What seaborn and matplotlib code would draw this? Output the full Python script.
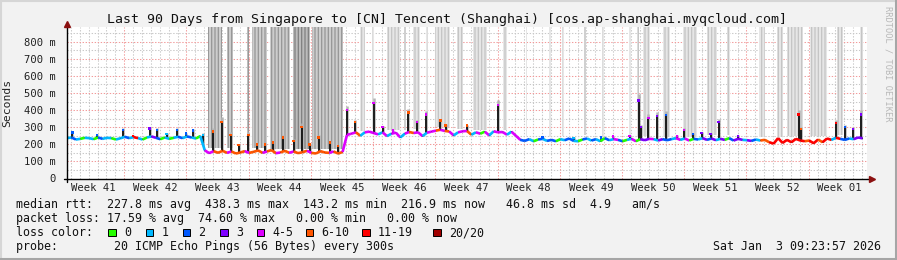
import numpy as np
import pandas as pd
import matplotlib
matplotlib.use("Agg")
import matplotlib.pyplot as plt
import seaborn as sns
from matplotlib.patches import Rectangle
from matplotlib.lines import Line2D
from matplotlib.collections import LineCollection

# ---------------- data ----------------
loss_labels = ['0', '1', '2', '3', '4-5', '6-10', '11-19', '20/20']
loss_colors = ['#26ff00', '#00b8ff', '#0059ff', '#7e00ff', '#dd00ff', '#ff5500', '#ff0000', '#a10000']

week_labels = ['Week 41', 'Week 42', 'Week 43', 'Week 44', 'Week 45', 'Week 46', 'Week 47',
               'Week 48', 'Week 49', 'Week 50', 'Week 51', 'Week 52', 'Week 01']
first_week_start = 6.44      # day offset of first Monday in the 90-day window

ytick_values = [0, 100, 200, 300, 400, 500, 600, 700, 800]
ytick_labels = ['0', '100 m', '200 m', '300 m', '400 m', '500 m', '600 m', '700 m', '800 m']

# baseline median rtt (ms), one sample every 12 hours
median_ms = [
    236, 240, 228, 232, 238, 236, 230, 240, 232, 238,
    236, 228, 235, 244, 236, 242, 236, 228, 240, 246,
    238, 230, 240, 232, 238, 244, 236, 246, 240, 234,
    248, 165, 148, 160, 150, 162, 150, 158, 146, 152,
    160, 150, 156, 164, 150, 158, 166, 148, 152, 162,
    150, 158, 148, 154, 162, 150, 146, 160, 152, 150,
    158, 146, 155, 255, 262, 270, 250, 270, 274, 266,
    258, 270, 248, 262, 268, 240, 262, 272, 266, 270,
    248, 268, 274, 280, 285, 278, 275, 252, 270, 276,
    278, 256, 270, 262, 274, 252, 276, 270, 272, 256,
    274, 250, 226, 220, 230, 218, 228, 232, 220, 226,
    218, 230, 224, 234, 220, 218, 228, 234, 222, 230,
    218, 236, 224, 230, 226, 218, 226, 232, 218, 230,
    224, 232, 230, 222, 230, 224, 230, 236, 226, 234,
    222, 232, 228, 236, 226, 234, 224, 232, 226, 236,
    222, 232, 226, 224, 220, 228, 222, 226, 212, 204,
    236, 208, 226, 212, 232, 222, 218, 222, 206, 228,
    212, 234, 226, 238, 232, 226, 234, 230, 240, 235,
]

# loss colour class index per sample (into loss_labels)
loss_idx = [
    1, 2, 1, 0, 1, 1, 0, 2, 1, 1,
    0, 1, 1, 2, 1, 6, 1, 0, 1, 3,
    2, 0, 1, 0, 1, 2, 1, 2, 1, 0,
    1, 4, 4, 5, 5, 5, 4, 5, 5, 5,
    4, 5, 5, 5, 4, 5, 5, 4, 5, 5,
    4, 5, 5, 5, 4, 5, 5, 5, 5, 4,
    5, 5, 4, 4, 4, 5, 1, 4, 4, 4,
    1, 4, 1, 4, 4, 1, 4, 5, 4, 4,
    1, 4, 4, 5, 4, 5, 4, 1, 4, 4,
    5, 1, 4, 0, 4, 1, 4, 4, 4, 1,
    4, 4, 2, 2, 1, 0, 2, 1, 2, 2,
    0, 1, 2, 2, 1, 0, 2, 1, 2, 1,
    0, 2, 1, 4, 2, 0, 1, 4, 0, 3,
    3, 4, 1, 3, 2, 2, 1, 4, 1, 4,
    0, 2, 1, 3, 2, 3, 1, 3, 0, 2,
    3, 3, 1, 3, 2, 1, 5, 5, 6, 6,
    6, 6, 6, 6, 6, 6, 5, 6, 6, 5,
    6, 6, 1, 6, 2, 2, 1, 3, 3, 0,
]

# short latency spikes: day, peak (ms), loss class at peak
spike_day = [0.6, 3.4, 6.3, 7.4, 9.3, 10.1, 11.2, 12.4, 13.4, 14.2, 15.3,
             16.4, 17.4, 18.4, 19.3, 20.4, 21.4, 22.3, 23.2, 24.3, 25.5, 26.4, 27.3, 28.3, 29.6, 30.5,
             31.5, 32.4, 34.5, 35.5, 36.7, 38.4, 39.4, 40.4, 42.0, 42.6, 45.0, 48.5,
             53.5, 57.0, 60.1, 61.4, 63.3, 64.3, 64.6, 65.4, 66.4, 67.4, 68.6, 69.4, 70.4, 71.4,
             72.4, 73.3, 75.5, 82.3, 82.6, 86.5, 87.5, 88.4, 89.3]
spike_peak = [268, 255, 285, 250, 292, 285, 260, 285, 262, 280, 255,
              275, 330, 255, 195, 255, 200, 200, 210, 240, 220, 300, 200, 240, 210, 190,
              400, 330, 440, 300, 280, 385, 330, 375, 340, 310, 310, 430,
              240, 238, 240, 245, 250, 455, 300, 355, 365, 370, 250, 285, 260, 265,
              260, 330, 250, 375, 290, 325, 300, 290, 375]
spike_loss = [2, 2, 2, 6, 3, 2, 1, 2, 2, 2, 1,
              5, 5, 5, 5, 5, 5, 5, 5, 5, 5, 5, 5, 5, 5, 5,
              4, 5, 4, 4, 4, 5, 4, 4, 5, 5, 5, 4,
              2, 1, 2, 4, 4, 3, 3, 4, 3, 2, 4, 4, 2, 3,
              3, 3, 3, 6, 5, 6, 2, 3, 3]

# smoke bands reaching the top of the graph: (start day, end day, shade)
smoke_bands = [
    (15.9, 17.4, 'd'), (18.0, 18.7, 'd'), (20.3, 20.5, 'd'), (20.8, 22.5, 'd'),
    (22.8, 25.1, 'd'), (25.4, 27.3, 'D'), (27.6, 31.0, 'd'), (33.0, 33.5, 'l'),
    (34.3, 34.5, 'l'), (36.0, 37.5, 'l'), (37.9, 38.1, 'l'), (38.9, 39.7, 'l'),
    (40.4, 40.6, 'l'), (41.4, 43.1, 'l'), (43.9, 44.5, 'l'), (45.7, 47.2, 'l'),
    (49.0, 49.5, 'l'), (51.6, 51.8, 'l'), (54.2, 54.4, 'l'), (55.7, 55.9, 'l'),
    (58.2, 58.4, 'l'), (60.2, 60.4, 'l'), (63.2, 63.4, 'l'), (64.1, 64.3, 'l'),
    (64.8, 65.6, 'l'), (67.0, 67.8, 'l'), (69.3, 70.9, 'l'), (72.0, 73.1, 'l'),
    (74.2, 74.6, 'l'), (77.9, 78.5, 'l'), (79.9, 80.5, 'l'), (81.0, 82.8, 'l'),
    (83.6, 85.5, 'l'), (86.6, 87.3, 'l'), (89.2, 89.5, 'l'),
]
shade_face = {'D': '#bcbcbc', 'd': '#cdcdcd', 'l': '#e6e6e6'}
shade_hatch = {'D': '#808080', 'd': '#969696', 'l': '#c4c4c4'}

title = 'Last 90 Days from Singapore to [CN] Tencent (Shanghai) [cos.ap-shanghai.myqcloud.com]'
stat_rtt = 'median rtt:  227.8 ms avg  438.3 ms max  143.2 ms min  216.9 ms now   46.8 ms sd  4.9   am/s'
stat_loss = 'packet loss: 17.59 % avg  74.60 % max   0.00 % min   0.00 % now'
probe_txt = 'probe:        20 ICMP Echo Pings (56 Bytes) every 300s'
date_txt = 'Sat Jan  3 09:23:57 2026'

# ---------------- figure ----------------
W, H = 897, 260
sns.set_style('white')
plt.rcParams['font.family'] = ['DejaVu Sans Mono']
plt.rcParams['hatch.linewidth'] = 0.9
fig = plt.figure(figsize=(W / 100, H / 100), dpi=100, facecolor='#f2f2f2')

def fx(px):
    return px / W

def fy(py):
    return 1 - py / H

ax_l, ax_r, ax_t, ax_b = 67, 867, 27, 178.5
ax = fig.add_axes([fx(ax_l), fy(ax_b), (ax_r - ax_l) / W, (ax_b - ax_t) / H])
ax.set_facecolor('white')
XMAX, YMAX = 90, 886
ax.set_xlim(0, XMAX)
ax.set_ylim(0, YMAX)
for s in ax.spines.values():
    s.set_visible(False)

t = np.arange(len(median_ms)) * 0.5
med = np.array(median_ms, dtype=float)

# grid
dots = (0, (1.3, 1.6))
minor_x = np.arange(first_week_start % 1, XMAX, 1.0)
bounds = first_week_start + 7 * np.arange(12)
for x in minor_x:
    if np.min(np.abs(bounds - x)) > 0.1:
        ax.axvline(x, color='#c8c8c8', lw=0.75, ls=dots, zorder=0.5)
for y in np.arange(50, YMAX, 100):
    ax.axhline(y, color='#c8c8c8', lw=0.75, ls=dots, zorder=0.5)
for x in bounds:
    ax.axvline(x, color='#f29a9a', lw=0.75, ls=dots, zorder=0.6)
for y in ytick_values[1:]:
    ax.axhline(y, color='#f29a9a', lw=0.75, ls=dots, zorder=0.6)

# smoke bands
for a, b, sh in smoke_bands:
    base = np.interp((a + b) / 2, t, med) + 20
    ax.fill_between([a, b], base, YMAX, facecolor=shade_face[sh], edgecolor=shade_hatch[sh],
                    hatch='|||||', lw=0, zorder=1)

# spikes: smoke, black line, coloured tip
sp_day = np.array(spike_day)
sp_peak = np.array(spike_peak, dtype=float)
sp_base = np.interp(sp_day, t, med)
ax.vlines(sp_day, sp_base, sp_peak + 0.18 * (sp_peak - sp_base), color='#b4b4b4', lw=1.8, zorder=2)
ax.vlines(sp_day, sp_base, sp_peak, color='black', lw=1.2, zorder=3)

# baseline median: thin black under coloured segments
sns.lineplot(x=t, y=med, color='black', linewidth=0.8, estimator=None, sort=False, ax=ax, zorder=3)
pts = np.column_stack([t, med])
segs = np.stack([pts[:-1], pts[1:]], axis=1)
lc = LineCollection(segs, colors=[loss_colors[k] for k in loss_idx[:-1]], linewidths=1.9, zorder=4)
ax.add_collection(lc)

spikes_df = pd.DataFrame({'day': sp_day, 'peak': sp_peak,
                          'loss': [loss_labels[k] for k in spike_loss]})
sns.scatterplot(data=spikes_df, x='day', y='peak', hue='loss', hue_order=loss_labels,
                palette=dict(zip(loss_labels, loss_colors)), marker='s', s=3, linewidth=0,
                legend=False, ax=ax, zorder=5)

# ticks
ax.set_yticks(ytick_values)
ax.set_yticklabels(ytick_labels)
ax.tick_params(axis='y', length=2, width=0.8, color='#444444', pad=6,
               labelsize=7.6, labelcolor='#222222')
ax.set_xticks(bounds)
ax.set_xticklabels([])
ax.tick_params(axis='x', which='major', length=3, width=0.8, color='#e07070')
centers = first_week_start - 3.5 + 7 * np.arange(len(week_labels))
ax.set_xticks(centers, minor=True)
ax.set_xticklabels(week_labels, minor=True)
ax.tick_params(axis='x', which='minor', length=0, pad=3, labelsize=7.6, labelcolor='#222222')
ax.set_xlabel('')
ax.set_ylabel('Seconds', fontsize=8.2, color='#222222')
ax.yaxis.set_label_coords(-0.069, 0.5)

# axis lines with arrows
ax.plot([0, 0], [-0.02, 1.0], transform=ax.transAxes, color='black', lw=1, clip_on=False, zorder=6)
ax.plot([-0.004, 1.004], [0, 0], transform=ax.transAxes, color='black', lw=1, clip_on=False, zorder=6)
ax.plot([0], [1.018], marker='^', ms=4.5, color='#8b1010', transform=ax.transAxes, clip_on=False, zorder=7)
ax.plot([1.0065], [0], marker='>', ms=4.5, color='#8b1010', transform=ax.transAxes, clip_on=False, zorder=7)

# texts
fig.text(fx(446.5), fy(19.5), title, ha='center', va='center', fontsize=9.5, color='#111111')
fig.text(fx(888), fy(6), 'RRDTOOL / TOBI OETIKER', rotation=270, ha='center', va='top',
         fontsize=6.2, color='#b8b8b8')
fs = 8.4
fig.text(fx(16), fy(204.5), stat_rtt, ha='left', va='center', fontsize=fs, color='#111111')
fig.text(fx(16), fy(218.5), stat_loss, ha='left', va='center', fontsize=fs, color='#111111')
fig.text(fx(16), fy(232.5), 'loss color:', ha='left', va='center', fontsize=fs, color='#111111')
fig.text(fx(16), fy(246.5), probe_txt, ha='left', va='center', fontsize=fs, color='#111111')
fig.text(fx(881), fy(246.5), date_txt, ha='right', va='center', fontsize=fs, color='#111111')

box_x = [108, 145.5, 182.5, 220, 256.5, 305.5, 362, 433]
for bx, lab, col in zip(box_x, loss_labels, loss_colors):
    fig.add_artist(Rectangle((fx(bx), fy(236)), 7.5 / W, 7.5 / H, transform=fig.transFigure,
                             facecolor=col, edgecolor='black', lw=0.7))
    fig.text(fx(bx + 16), fy(232.5), lab, ha='left', va='center', fontsize=fs, color='#111111')

# frame
fig.add_artist(Line2D([0, 1], [fy(0.5), fy(0.5)], transform=fig.transFigure, color='#d6d6d6', lw=1.5))
fig.add_artist(Line2D([fx(0.5), fx(0.5)], [0, 1], transform=fig.transFigure, color='#d6d6d6', lw=1.5))
fig.add_artist(Line2D([0, 1], [fy(258.8), fy(258.8)], transform=fig.transFigure, color='#a6a6a6', lw=2.2))
fig.add_artist(Line2D([fx(895.8), fx(895.8)], [0, 1], transform=fig.transFigure, color='#a6a6a6', lw=2.2))

fig.savefig('out.png', dpi=100, facecolor=fig.get_facecolor())
